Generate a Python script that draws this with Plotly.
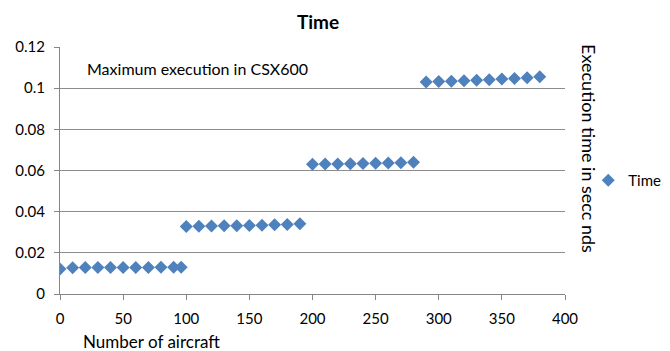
import plotly.graph_objects as go

# Number of aircraft simulated
aircraft = [0, 10, 20, 30, 40, 50, 60, 70, 80, 90, 96,
            100, 110, 120, 130, 140, 150, 160, 170, 180, 190,
            200, 210, 220, 230, 240, 250, 260, 270, 280,
            290, 300, 310, 320, 330, 340, 350, 360, 370, 380]

# Maximum execution time (seconds)
exec_time = [0.0121, 0.0128, 0.0129, 0.0129, 0.0129, 0.0129, 0.0129, 0.0129, 0.0130, 0.0130, 0.0130,
             0.0328, 0.0329, 0.0330, 0.0331, 0.0332, 0.0333, 0.0334, 0.0336, 0.0338, 0.0341,
             0.0630, 0.0631, 0.0632, 0.0633, 0.0634, 0.0635, 0.0636, 0.0638, 0.0640,
             0.1030, 0.1032, 0.1034, 0.1036, 0.1038, 0.1041, 0.1044, 0.1047, 0.1051, 0.1056]

x_ticks = [0, 50, 100, 150, 200, 250, 300, 350, 400]
y_ticks = [0, 0.02, 0.04, 0.06, 0.08, 0.1, 0.12]
y_tick_text = ["0", "0.02", "0.04", "0.06", "0.08", "0.1", "0.12"]

FONT = "Lato, 'Open Sans', sans-serif"
AXIS_GREY = "#868686"

fig = go.Figure()
fig.add_trace(go.Scatter(
    x=aircraft, y=exec_time, mode="markers", name="Time",
    marker=dict(symbol="diamond", size=10, color="#4F81BD",
                line=dict(width=0)),
))

fig.update_layout(
    width=670, height=351,
    margin=dict(l=60, r=105, t=47, b=57, autoexpand=False),
    paper_bgcolor="white", plot_bgcolor="white",
    font=dict(family=FONT, size=15, color="black"),
    title=dict(text="<b>Time</b>", x=0.511, xref="paper", xanchor="center",
               y=1 - 22 / 351, yref="container", yanchor="middle",
               font=dict(family=FONT, size=19, color="black")),
    showlegend=True,
    legend=dict(x=1.046, xanchor="left", y=0.46, yanchor="middle",
                font=dict(family=FONT, size=15, color="black"),
                bgcolor="rgba(0,0,0,0)", itemwidth=30),
    xaxis=dict(range=[0, 400], tickvals=x_ticks, showgrid=False,
               showline=True, linecolor=AXIS_GREY, linewidth=1,
               ticks="outside", ticklen=5, tickcolor=AXIS_GREY,
               ticklabelstandoff=6,
               tickfont=dict(family=FONT, size=15, color="black"),
               zeroline=False, fixedrange=True),
    yaxis=dict(range=[0, 0.12], tickvals=y_ticks, ticktext=y_tick_text,
               showgrid=True, gridcolor="#8C8C8C", gridwidth=1,
               showline=True, linecolor=AXIS_GREY, linewidth=1,
               ticks="outside", ticklen=5, tickcolor=AXIS_GREY,
               ticklabelstandoff=6,
               tickfont=dict(family=FONT, size=15, color="black"),
               zeroline=False, fixedrange=True),
    annotations=[
        dict(text="Maximum execution in CSX600", x=0.0495, y=0.913,
             xref="paper", yref="paper", xanchor="left", yanchor="middle",
             showarrow=False, font=dict(family=FONT, size=16, color="black")),
        dict(text="Number of aircraft", x=0.181, y=-0.194,
             xref="paper", yref="paper", xanchor="center", yanchor="middle",
             showarrow=False, font=dict(family=FONT, size=17, color="black")),
        dict(text="Execution time in secc nds", x=1.046, y=0.59,
             xref="paper", yref="paper", xanchor="center", yanchor="middle",
             textangle=90, showarrow=False,
             font=dict(family=FONT, size=18, color="black")),
    ],
)

fig.write_html("out.html")
